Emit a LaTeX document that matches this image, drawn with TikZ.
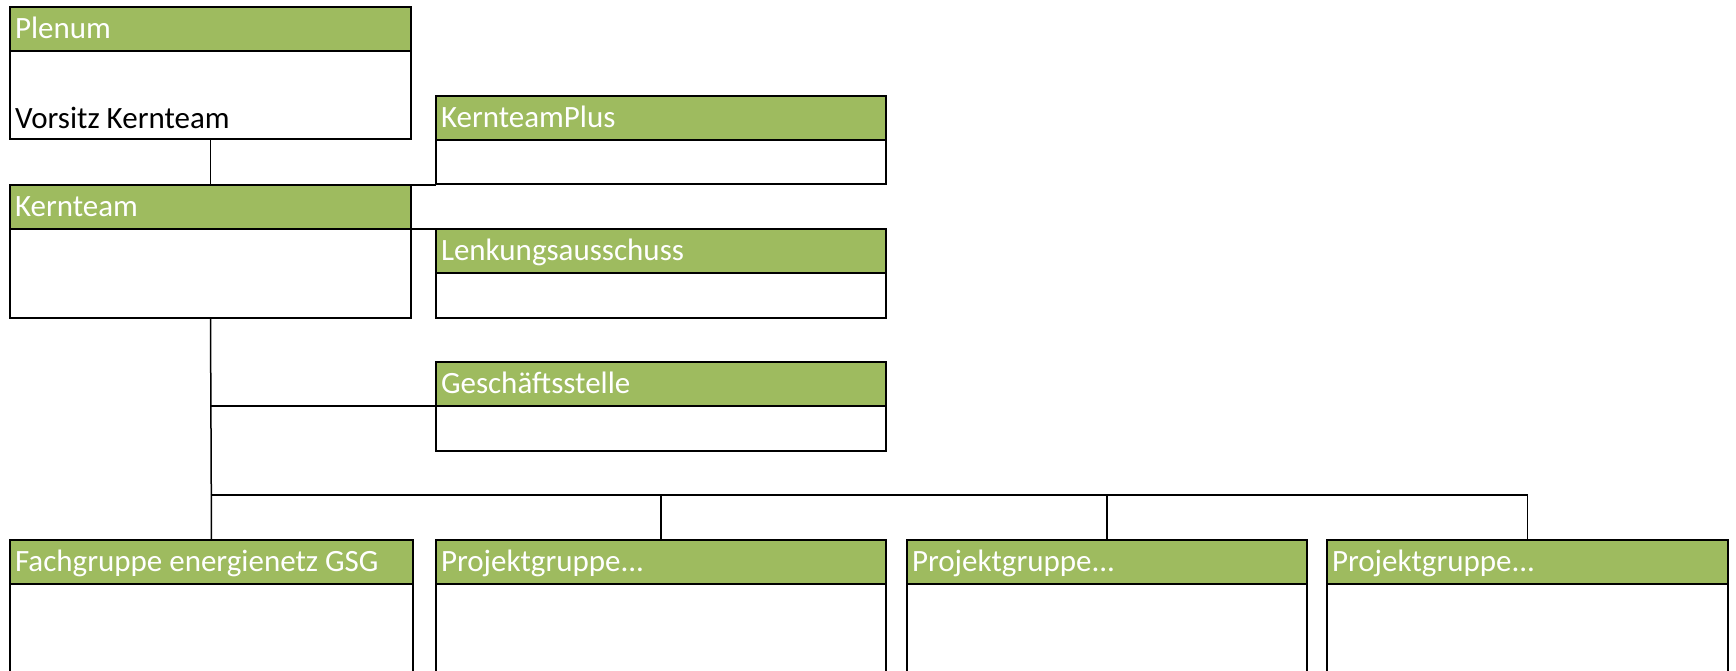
\documentclass[tikz,border=0pt]{standalone}
\usepackage{fontspec}
\setmainfont{Carlito}
\definecolor{hdrgreen}{HTML}{9EBB5F}
\begin{document}
\begin{tikzpicture}[x=1pt,y=-1pt,
  every node/.style={inner sep=0pt, outer sep=0pt},
  box/.style={draw=black, line width=1.5pt, fill=white, rectangle, anchor=north west},
  hdr/.style={draw=black, line width=1.5pt, fill=hdrgreen, rectangle, anchor=north west, minimum height=44pt},
  hdrtext/.style={anchor=base west, text=white, font=\fontsize{31}{37}\selectfont, xshift=5pt, yshift=-9.5pt},
  conn/.style={draw=black, line width=1.5pt}]
\path[fill=white] (0,0) rectangle (1736,670);
\useasboundingbox (0,0) rectangle (1736,670);
\clip (0,0) rectangle (1736,670);
% boxes
\node[box, minimum width=401pt, minimum height=132pt] (pl) at (10,7) {};
\node[hdr, minimum width=401pt] (plh) at (10,7) {};
\node[hdrtext] (plt) at (plh.west) {Plenum};
\node[anchor=base west, font=\fontsize{31}{37}\selectfont, text=black] (vk) at (15,128) {Vorsitz Kernteam};

\node[box, minimum width=450pt, minimum height=88pt] (kp) at (436,96) {};
\node[hdr, minimum width=450pt] (kph) at (436,96) {};
\node[hdrtext] (kpt) at (kph.west) {KernteamPlus};

\node[box, minimum width=401pt, minimum height=133pt] (kt) at (10,185) {};
\node[hdr, minimum width=401pt] (kth) at (10,185) {};
\node[hdrtext] (ktt) at (kth.west) {Kernteam};

\node[box, minimum width=450pt, minimum height=89pt] (la) at (436,229) {};
\node[hdr, minimum width=450pt] (lah) at (436,229) {};
\node[hdrtext] (lat) at (lah.west) {Lenkungsausschuss};

\node[box, minimum width=450pt, minimum height=89pt] (gs) at (436,362) {};
\node[hdr, minimum width=450pt] (gsh) at (436,362) {};
\node[hdrtext] (gst) at (gsh.west) {Geschäftsstelle};

\node[box, minimum width=403pt, minimum height=160pt] (fg) at (10,540) {};
\node[hdr, minimum width=403pt] (fgh) at (10,540) {};
\node[hdrtext] (fgt) at (fgh.west) {Fachgruppe energienetz GSG};

\node[box, minimum width=450pt, minimum height=160pt] (pa) at (436,540) {};
\node[hdr, minimum width=450pt] (pah) at (436,540) {};
\node[hdrtext] (pat) at (pah.west) {Projektgruppe...};

\node[box, minimum width=400pt, minimum height=160pt] (pb) at (907,540) {};
\node[hdr, minimum width=400pt] (pbh) at (907,540) {};
\node[hdrtext] (pbt) at (pbh.west) {Projektgruppe...};

\node[box, minimum width=401pt, minimum height=160pt] (pc) at (1327,540) {};
\node[hdr, minimum width=401pt] (pch) at (1327,540) {};
\node[hdrtext] (pct) at (pch.west) {Projektgruppe...};

% connectors
\coordinate (bus) at (0,495);
\draw[conn] (pl.south) -- (kth.north);
\draw[conn] (kth.north east) -- (kth.north east -| kp.west);
\draw[conn] (kth.south east) -- (lah.north west);
\draw[conn] (kt.south) -- (fgh.north);
\draw[conn] (kt.south |- gsh.south) -- (gsh.south west);
\draw[conn] (kt.south |- bus) -| (pch.north);
\draw[conn] (pah.north |- bus) -- (pah.north);
\draw[conn] (pbh.north |- bus) -- (pbh.north);
\end{tikzpicture}
\end{document}
